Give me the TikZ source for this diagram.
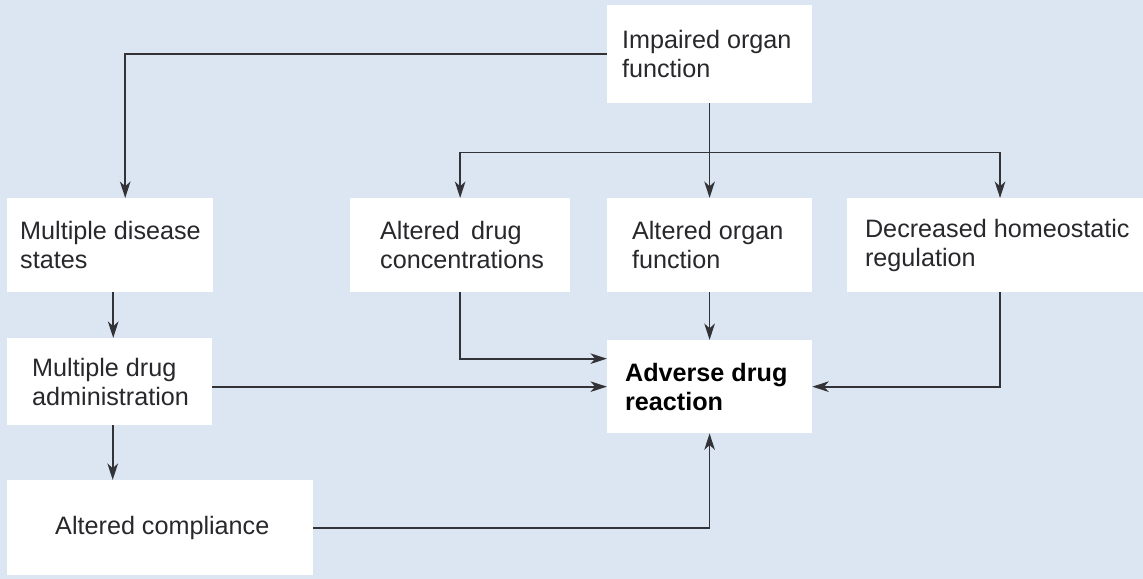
\documentclass[tikz,border=0pt]{standalone}
\usepackage{fontspec}
\setmainfont{Liberation Sans}
\usetikzlibrary{arrows.meta,calc}
\definecolor{bgblue}{RGB}{219,230,242}
\definecolor{inkgrey}{RGB}{50,50,55}
\begin{document}
\begin{tikzpicture}[x=0.03cm, y=-0.03cm,
  panel/.style={fill=white, inner sep=0, anchor=north west},
  txt/.style={inner sep=0, align=left, anchor=west, text=inkgrey!80!black, font=\fontsize{21.5}{25}\selectfont},
  arr/.style={-{Stealth[length=14pt,width=9pt,inset=4pt]}, draw=inkgrey, line width=1.5pt}]
\fill[bgblue] (0,0) rectangle (1143,579);
% white boxes
\node[panel, minimum width=205*0.03cm, minimum height=98*0.03cm] (imp) at (607,5) {};
\node[panel, minimum width=206*0.03cm, minimum height=94*0.03cm] (mds) at (7,198) {};
\node[panel, minimum width=220*0.03cm, minimum height=94*0.03cm] (adc) at (350,198) {};
\node[panel, minimum width=205*0.03cm, minimum height=94*0.03cm] (aof) at (607,198) {};
\node[panel, minimum width=296*0.03cm, minimum height=94*0.03cm] (dhr) at (847,198) {};
\node[panel, minimum width=205*0.03cm, minimum height=87*0.03cm] (mda) at (7,338) {};
\node[panel, minimum width=205*0.03cm, minimum height=93*0.03cm] (adr) at (607,340) {};
\node[panel, minimum width=306*0.03cm, minimum height=95*0.03cm] (ac) at (7,480) {};
% texts
\node[txt] (imp-t) at ($(imp.west)+(15,0)$) {Impaired organ\\function};
\node[txt] (mds-t) at ($(mds.west)+(13,0)$) {Multiple disease\\states};
\node[txt] (adc-t) at ($(adc.west)+(30,0)$) {Altered\, drug\\concentrations};
\node[txt] (aof-t) at ($(aof.west)+(25,0)$) {Altered organ\\function};
\node[txt] (dhr-t) at ($(dhr.west)+(18,0)$) {Decreased homeostatic\\regulation};
\node[txt] (mda-t) at ($(mda.west)+(25,0)$) {Multiple drug\\administration};
\node[txt, font=\fontsize{21.5}{25}\selectfont\bfseries, text=black] (adr-t) at ($(adr.west)+(18,0)$) {Adverse drug\\reaction};
\node[txt] (ac-t) at ($(ac.west)+(48,0)$) {Altered compliance};
% connectors
\coordinate (br) at ($(imp.south)+(0,49)$);
\coordinate (mdsfoot) at ($(mds.south)+(3,0)$);
\coordinate (mdafoot) at ($(mda.south)+(3,0)$);
\draw[arr] (imp.west) -| ($(mds.north)+(15,0)$);
\draw[arr] (imp.south) -- (aof.north);
\draw[arr] (br) -| (adc.north);
\draw[arr] (br) -| ($(dhr.north)+(5,0)$);
\draw[arr] (mdsfoot) -- (mdsfoot |- mda.north);
\draw[arr] (mdafoot) -- (mdafoot |- ac.north);
\draw[arr] (adc.south) |- ($(adr.west)+(0,-28)$);
\draw[arr] (mda.east |- adr.west) -- (adr.west);
\draw[arr] (aof.south) -- (adr.north);
\draw[arr] ($(dhr.south)+(5,0)$) |- (adr.east);
\draw[arr] (ac.east) -| (adr.south);
\end{tikzpicture}
\end{document}
